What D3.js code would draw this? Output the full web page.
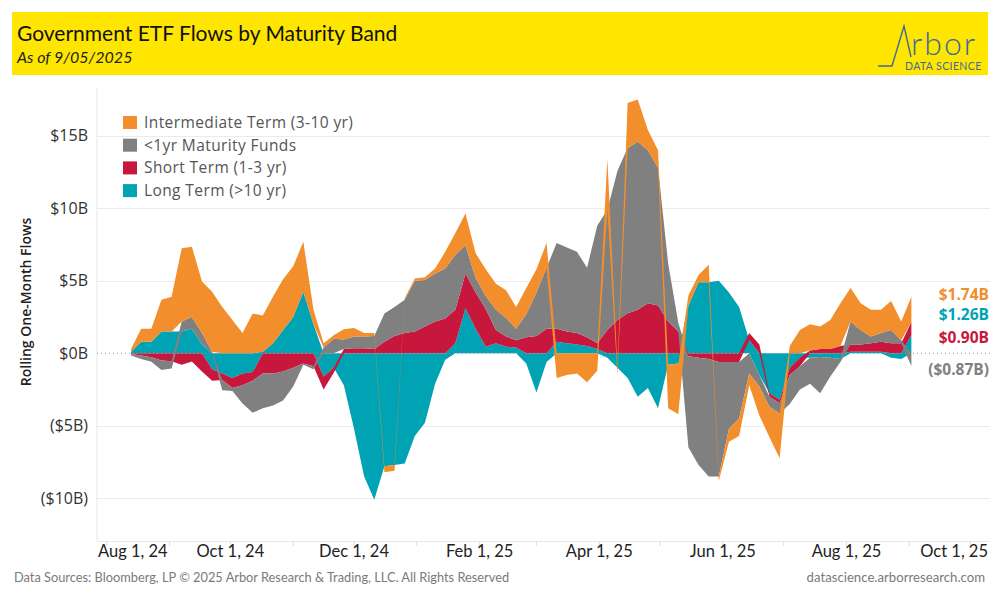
<!DOCTYPE html>
<html>
<head>
<meta charset="utf-8">
<script src="https://cdn.jsdelivr.net/npm/d3@7"></script>
<style>
  body { margin: 0; background: #fff; }
  svg { display: block; }
</style>
</head>
<body>
<div id="chart"></div>
<script>
// Rolling one-month flows, $B, every 5 days
const startDate = new Date(2024, 7, 13)
const stepDays = 5

const longTerm = [0.1, 0.8, 0.8, 1.5, 1.5, 1.5, 1.7, 0.6, -1.1, -1.4,
    -1.7, -1.4, -1.3, 0.1, 0.7, 1.6, 2.5, 4.25, 2.0, -1.6,
    -1.0, -2.2, -5.2, -8.5, -10.1, -7.8, -7.7, -7.6, -5.7, -4.8,
    -2.1, -0.45, 0.7, 3.1, 1.7, 0.45, 0.7, 0.45, 0.4, -0.7,
    -2.7, -0.6, 0.8, 0.7, 0.6, 0.5, 0.3, -0.3, -1.0, -1.7,
    -3.0, -2.4, -3.8, -0.8, -0.7, 3.3, 4.9, 4.9, 5.0, 4.2,
    3.2, 0.9, -1.5, -2.75, -3.2, -1.0, -0.3, -0.3, -0.25, -0.3,
    -0.4, 0.1, 0.1, 0.1, 0.1, -0.3, -0.4, 1.26]
const shortTerm = [-0.05, -0.15, -0.28, -0.5, -0.55, -0.8, -0.57, -1.26, -0.8, -0.45,
    -0.7, -0.8, -0.6, -1.4, -1.4, -1.26, -1.0, -0.7, -0.9, -0.9,
    -0.35, 0.3, 0.35, 0.35, 0.3, 0.8, 1.2, 1.4, 1.5, 1.85,
    2.2, 2.4, 2.3, 2.4, 2.5, 2.6, 0.9, 0.7, 0.5, 1.1,
    1.2, 1.7, 0.9, 0.8, 0.8, 0.6, 0.4, 1.6, 2.3, 2.76,
    3.0, 3.45, 3.3, 2.2, 1.5, -0.2, -0.3, -0.4, -0.6, -0.6,
    -0.6, 0.5, 0.6, -0.25, -0.25, -0.5, -0.6, 0.2, 0.3, 0.3,
    0.5, 0.5, 0.5, 0.6, 0.7, 0.7, 0.7, 0.90]
const underOneYear = [-0.1, -0.25, -0.3, -0.65, -0.5, 0.7, 0.8, 0.8, 0.1, -0.7,
    -0.2, -1.26, -2.2, -2.4, -2.2, -2.0, -1.3, -0.1, -0.2, 0.4,
    1.0, 0.65, 0.8, 0.8, 0.9, 1.95, 2.0, 2.3, 3.5, 3.2,
    3.3, 3.45, 3.8, 1.95, 1.0, 0.9, 1.4, 1.3, 0.8, 1.6,
    3.0, 4.2, 5.9, 5.8, 5.6, 4.8, 8.1, 8.3, 10.3, 11.4,
    11.6, 10.55, 9.5, 4.0, 0.6, -6.3, -7.4, -8.1, -7.9, -4.6,
    -3.9, -1.4, -0.8, -0.7, -0.7, -2.0, -1.6, -1.8, -2.5, -1.3,
    -0.2, 1.6, 1.0, 0.45, 0.6, 0.9, 0.2, -0.87]
const intermediate = [0.2, 0.9, 0.9, 2.2, 2.4, 5.05, 4.85, 3.55, 4.15, 3.2,
    2.3, 1.4, 2.75, 2.5, 3.2, 3.5, 3.5, 3.45, 1.0, 0.3,
    0.25, 0.7, 0.6, 0.25, 0.2, -0.4, -0.4, 0.1, 0.15, 0.2,
    0.35, 1.15, 1.5, 2.2, 1.7, 1.85, 1.8, 1.9, 1.5, 1.8,
    1.6, 1.7, -1.7, -1.5, -1.4, -2.0, -1.2, 3.5, -0.5, 3.1,
    2.9, 1.4, 1.2, -3.0, -3.5, 0.7, 0.5, 1.2, -0.3, -0.9,
    -1.2, -0.8, -2.0, -2.1, -3.1, 0.5, 1.6, 1.8, 1.55, 2.0,
    2.95, 2.3, 1.85, 1.85, 1.6, 2.0, 1.3, 1.74]

const dates = longTerm.map((v, i) => d3.timeDay.offset(startDate, i * stepDays))

const seriesKeys = ["long", "short", "under1", "inter"]
const seriesNames = {
    long: "Long Term (>10 yr)",
    short: "Short Term (1-3 yr)",
    under1: "<1yr Maturity Funds",
    inter: "Intermediate Term (3-10 yr)"
}
const seriesColors = {long: "#00A3B4", short: "#C8173D", under1: "#808080", inter: "#F28E2B"}
const legendOrder = ["inter", "under1", "short", "long"]
const endLabelOrder = ["inter", "long", "short", "under1"]

const yTicks = [-10, -5, 0, 5, 10, 15]
const xTickMonths = d3.timeMonth.range(new Date(2024, 7, 1), new Date(2025, 9, 2))
const xLabelMonths = xTickMonths.filter((d, i) => i % 2 === 0)

// table for the stack
const rows = dates.map((d, i) => ({
    date: d,
    long: longTerm[i],
    short: shortTerm[i],
    under1: underOneYear[i],
    inter: intermediate[i]
}))

const width = 1000
const height = 600
const plot = {left: 97, right: 990, top: 88, bottom: 541}

const svg = d3.select("#chart")
    .append("svg")
    .attr("width", width)
    .attr("height", height)

// header band
svg.append("rect")
    .attr("x", 12).attr("y", 12)
    .attr("width", 976).attr("height", 63)
    .attr("fill", "#FFE600")
svg.append("text")
    .attr("x", 17).attr("y", 41)
    .style("font-family", "Lato, sans-serif")
    .style("font-size", "21px")
    .attr("fill", "#111")
    .text("Government ETF Flows by Maturity Band")
svg.append("text")
    .attr("x", 17).attr("y", 63)
    .style("font-family", "Lato, sans-serif")
    .style("font-size", "16px")
    .style("font-style", "italic")
    .attr("fill", "#222")
    .text("As of 9/05/2025")

// logo
const logo = svg.append("g")
logo.append("path")
    .attr("d", "M878,66 H892 L904,26 L911,57")
    .attr("fill", "none")
    .attr("stroke", "#3F6A99")
    .attr("stroke-width", 1.4)
logo.append("text")
    .attr("x", 911).attr("y", 55)
    .style("font-family", "Lato, sans-serif")
    .style("font-size", "32px")
    .style("font-weight", 300)
    .style("letter-spacing", "2px")
    .attr("fill", "#3F6A99")
    .text("rbor")
logo.append("text")
    .attr("x", 905).attr("y", 70)
    .style("font-family", "Lato, sans-serif")
    .style("font-size", "10.5px")
    .style("letter-spacing", "0.4px")
    .attr("fill", "#3F6A99")
    .text("DATA SCIENCE")

// scales
x = d3.scaleTime()
    .domain([new Date(2024, 6, 26, 5), new Date(2025, 9, 10, 19)])
    .range([95, 990])
y = d3.scaleLinear()
    .domain([-12.95, 18.3])
    .range([plot.bottom, plot.top])

// grid
svg.append("g")
    .selectAll("line")
    .data(yTicks.filter(t => t !== 0))
    .join("line")
        .attr("x1", plot.left).attr("x2", plot.right)
        .attr("y1", d => Math.round(y(d)) + 0.5).attr("y2", d => Math.round(y(d)) + 0.5)
        .attr("stroke", "#EBEBEB")
svg.append("line")
    .attr("x1", plot.left).attr("x2", plot.left)
    .attr("y1", plot.top).attr("y2", plot.bottom)
    .attr("stroke", "#E8E8E8")
svg.append("line")
    .attr("x1", plot.left).attr("x2", plot.right)
    .attr("y1", plot.bottom + 0.5).attr("y2", plot.bottom + 0.5)
    .attr("stroke", "#E8E8E8")

// stacked areas, positives up and negatives down
const stack = d3.stack()
    .keys(seriesKeys)
    .offset(d3.stackOffsetDiverging)
const layers = stack(rows)

const area = d3.area()
    .x(d => x(d.data.date))
    .y0(d => y(d[0]))
    .y1(d => y(d[1]))

svg.append("g")
    .selectAll("path")
    .data(layers)
    .join("path")
        .attr("fill", d => seriesColors[d.key])
        .attr("d", area)

// zero line
svg.append("line")
    .attr("x1", plot.left).attr("x2", plot.right)
    .attr("y1", y(0)).attr("y2", y(0))
    .attr("stroke", "#9A9A9A")
    .attr("stroke-dasharray", "1,3")

// y axis labels
const yFmt = v => v < 0 ? "($" + (-v) + "B)" : "$" + v + "B"
svg.append("g")
    .selectAll("text")
    .data(yTicks)
    .join("text")
        .attr("x", 88)
        .attr("y", d => y(d))
        .attr("dy", "0.35em")
        .attr("text-anchor", "end")
        .style("font-family", "'Open Sans', sans-serif")
        .style("font-size", "16px")
        .attr("fill", "#333")
        .text(yFmt)

svg.append("text")
    .attr("transform", "translate(26," + 302 + ") rotate(-90)")
    .attr("text-anchor", "middle")
    .attr("dy", "0.35em")
    .style("font-family", "'Open Sans', sans-serif")
    .style("font-size", "14px")
    .style("font-weight", 600)
    .attr("fill", "#222")
    .text("Rolling One-Month Flows")

// x axis
svg.append("g")
    .selectAll("line")
    .data(xTickMonths)
    .join("line")
        .attr("x1", d => x(d)).attr("x2", d => x(d))
        .attr("y1", plot.bottom).attr("y2", plot.bottom + 5)
        .attr("stroke", "#DDD")

const xFmt = d3.timeFormat("%b %-d, %y")
const xLabels = svg.append("g")
    .selectAll("text")
    .data(xLabelMonths)
    .join("text")
        .attr("x", d => x(d))
        .attr("y", 557)
        .attr("text-anchor", "middle")
        .style("font-family", "Lato, sans-serif")
        .style("font-size", "16.5px")
        .attr("fill", "#222")
        .text(xFmt)
// keep edge labels inside the plot like the original
xLabels.each(function(d) {
    const w = this.getComputedTextLength()
    let cx = x(d)
    if (cx - w / 2 < plot.left + 1) cx = plot.left + 1 + w / 2
    if (cx + w / 2 > 988) cx = 988 - w / 2
    d3.select(this).attr("x", cx)
})

// legend
const legend = svg.append("g")
    .selectAll("g")
    .data(legendOrder)
    .join("g")
        .attr("transform", (d, i) => "translate(123," + (116 + i * 22.7) + ")")
legend.append("rect")
    .attr("width", 14).attr("height", 13)
    .attr("fill", d => seriesColors[d])
legend.append("text")
    .attr("x", 21).attr("y", 12)
    .style("font-family", "'Open Sans', sans-serif")
    .style("font-size", "15.5px")
    .style("letter-spacing", "0.4px")
    .attr("fill", "#555")
    .text(d => seriesNames[d])

// end labels
const last = rows[rows.length - 1]
const endTop = y(d3.sum(seriesKeys, k => Math.max(0, last[k])))
const endGap = [0, 20, 43, 75]
const endFmt = v => v < 0 ? "($" + (-v).toFixed(2) + "B)" : "$" + v.toFixed(2) + "B"
svg.append("g")
    .selectAll("text")
    .data(endLabelOrder)
    .join("text")
        .attr("x", 989)
        .attr("y", (d, i) => endTop - 2 + endGap[i])
        .attr("dy", "0.35em")
        .attr("text-anchor", "end")
        .style("font-family", "'Open Sans', sans-serif")
        .style("font-size", "15.5px")
        .style("font-weight", 700)
        .attr("fill", d => seriesColors[d])
        .text(d => endFmt(last[d]))

// footer
svg.append("text")
    .attr("x", 14).attr("y", 582)
    .style("font-family", "Lato, sans-serif")
    .style("font-size", "12.8px")
    .attr("fill", "#7A7A7A")
    .text("Data Sources: Bloomberg, LP \u00A9 2025 Arbor Research & Trading, LLC. All Rights Reserved")
svg.append("text")
    .attr("x", 985).attr("y", 582)
    .attr("text-anchor", "end")
    .style("font-family", "Lato, sans-serif")
    .style("font-size", "13.2px")
    .attr("fill", "#7A7A7A")
    .text("datascience.arborresearch.com")
</script>
</body>
</html>
